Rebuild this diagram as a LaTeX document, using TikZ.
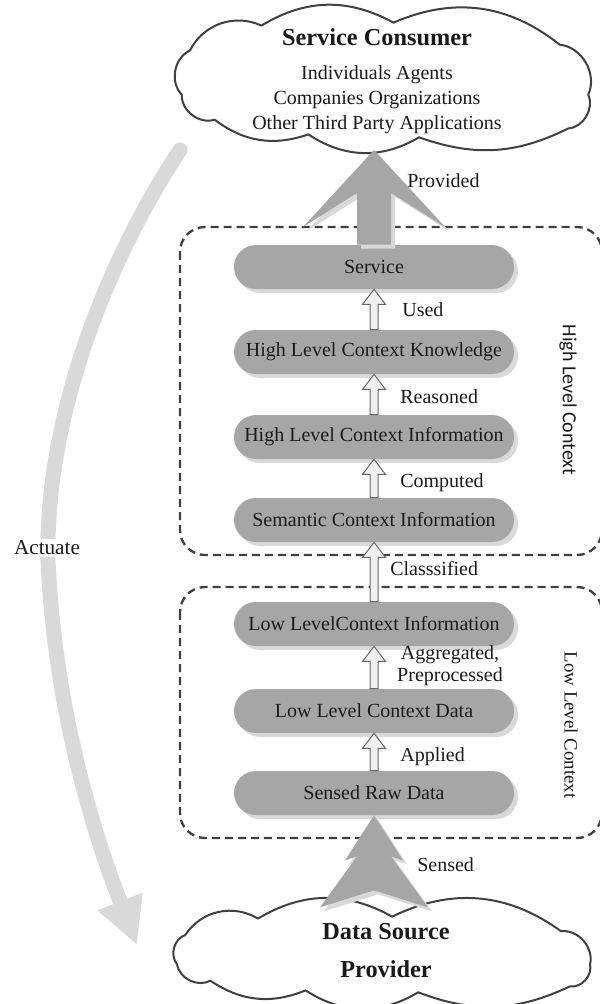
\documentclass[tikz,border=0pt]{standalone}
\usepackage{fontspec}
\setmainfont{Liberation Serif}
\newfontfamily\calibfont{Carlito}
\usetikzlibrary{shapes.misc,arrows.meta,calc,shadows}

\definecolor{boxgray}{HTML}{A6A6A6}
\definecolor{shadegray}{HTML}{D9D9D9}
\definecolor{linegray}{HTML}{404040}
\definecolor{inkgray}{HTML}{1A1A1A}

% cloud outline in unit coordinates (left, top = 0; right, bottom = 1)
\newcommand\cloudoutline{(0.023,0.61) to[bend left=55] (0.042,0.31) to[bend left=44] (0.21,0.14)
  to[bend left=30] (0.52,0.12) to[bend left=31] (0.91,0.27) to[bend left=55] (0.977,0.61)
  to[bend left=55] (0.93,0.84) to[bend left=23] (0.58,0.90) to[bend left=32] (0.32,0.88)
  to[bend left=28] (0.10,0.78) to[bend left=55] (0.023,0.61) -- cycle}

\tikzset{
  pill/.style={rounded rectangle, fill=boxgray, text=inkgray,
    minimum width=168pt, minimum height=26.4pt, inner sep=0pt,
    font=\fontsize{12}{14}\selectfont,
    drop shadow={shadow xshift=2.4pt, shadow yshift=-2.4pt, fill=shadegray, opacity=1}},
  lbl/.style={anchor=west, inner sep=0pt, text=inkgray, font=\fontsize{12}{14}\selectfont},
  grp/.style={draw=linegray, line width=1.4pt, dash pattern=on 4.8pt off 3pt, rounded corners=15pt},
  cloudline/.style={draw=linegray, line width=1.2pt, fill=white, line join=round},
  % small hollow block arrow between two stacked boxes
  smallarrow/.style={draw=black!60, fill=black!6, line width=0.6pt,
    to path={let \p1=(\tikztostart), \p2=(\tikztotarget) in
      (\x1-2.4pt,\y1) -- (\x1-2.4pt,\y2-9pt) -- (\x1-6.9pt,\y2-9pt) -- (\x1,\y2)
      -- (\x1+6.9pt,\y2-9pt) -- (\x1+2.4pt,\y2-9pt) -- (\x1+2.4pt,\y1) -- cycle}},
  % wide arrow with swept-back barbs
  widearrow/.style={fill=boxgray,
    drop shadow={shadow xshift=2.4pt, shadow yshift=-2.4pt, fill=shadegray, opacity=1},
    to path={let \p1=(\tikztostart), \p2=(\tikztotarget) in
      (\x1-10.2pt,\y1) -- (\x1-10.2pt,\y2-25.8pt) -- (\x1-42.6pt,\y2-46.2pt) -- (\x1,\y2)
      -- (\x1+42.6pt,\y2-46.2pt) -- (\x1+10.2pt,\y2-25.8pt) -- (\x1+10.2pt,\y1) -- cycle}},
  % double-headed (tree like) arrow
  treearrow/.style={fill=boxgray,
    drop shadow={shadow xshift=2.4pt, shadow yshift=-2.4pt, fill=shadegray, opacity=1},
    to path={let \p2=(\tikztotarget) in
      (\x2,\y2) -- (\x2+17.4pt,\y2-27pt) -- (\x2+10.2pt,\y2-24.6pt) -- (\x2+32.4pt,\y2-55.2pt)
      -- (\x2,\y2-45pt) -- (\x2-32.4pt,\y2-55.2pt) -- (\x2-10.2pt,\y2-24.6pt)
      -- (\x2-17.4pt,\y2-27pt) -- cycle}},
  bend arrow/.style={draw=shadegray, line width=9pt, line cap=round,
    -{Triangle[width=27pt,length=28pt]}}
}

\begin{document}
\begin{tikzpicture}[x=0.6pt,y=-0.6pt]
  \useasboundingbox (0,0) rectangle (600,1004);
  \clip (0,0) rectangle (600,1004);

  % grouping frames
  \draw[grp] (180,227) rectangle (602,555);
  \draw[grp] (180,587) rectangle (602,838);
  \node[rotate=-90, inner sep=0pt, text=inkgray, font=\calibfont\fontsize{12}{14}\selectfont] (hlc) at (568,400) {High Level Context};
  \node[rotate=-90, inner sep=0pt, text=inkgray, font=\fontsize{11.3}{14}\selectfont] (llc) at (571,725) {Low Level Context};

  % actuation loop on the left
  \coordinate (actstart) at (180,150);
  \coordinate (actend) at (137,945);
  \draw[bend arrow] (actstart) .. controls (120,240) and (45,400) .. (48,560)
    .. controls (55,720) and (100,850) .. (actend);
  \node[fill=white, inner sep=1pt, text=inkgray, font=\fontsize{12.7}{15}\selectfont] (act) at (47,548) {Actuate};

  % the two end points
  \begin{scope}[shift={(172,5)}, x=255.6pt, y=-88.2pt]
    \draw[cloudline] \cloudoutline;
  \end{scope}
  \coordinate (consbase) at (374,150);
  \node[align=center, text=inkgray, inner sep=0pt, font=\fontsize{12}{15.2}\selectfont] (cons) at (377,81.5)
    {{\fontsize{14.6}{16}\selectfont\bfseries Service Consumer}\\[5pt]
     Individuals Agents\\ Companies Organizations\\ Other Third Party Applications};
  \begin{scope}[shift={(167,905)}, x=259.8pt, y=-58.2pt]
    \draw[cloudline] \cloudoutline;
  \end{scope}
  \coordinate (dsptop) at (374,905);
  \node[align=center, text=inkgray, inner sep=0pt, font=\fontsize{14.6}{22.8}\selectfont\bfseries] (dsp) at (386,951)
    {Data Source\\ Provider};

  % processing stages
  \node[pill] (svc)  at (374,267) {Service};
  \node[pill] (hlck) at (374,352) {High Level Context Knowledge};
  \node[pill] (hlci) at (374,437) {High Level Context Information};
  \node[pill] (sci)  at (374,520) {Semantic Context Information};
  \node[pill] (llci) at (374,624) {Low LevelContext Information};
  \node[pill] (llcd) at (374,711) {Low Level Context Data};
  \node[pill] (srd)  at (374,793) {Sensed Raw Data};

  % transitions
  \draw[smallarrow] (hlck.north) to (svc.south);
  \draw[smallarrow] (hlci.north) to (hlck.south);
  \draw[smallarrow] (sci.north)  to (hlci.south);
  \draw[smallarrow] (llci.north) to (sci.south);
  \draw[smallarrow] (llcd.north) to (llci.south);
  \draw[smallarrow] (srd.north)  to (llcd.south);
  \path[widearrow] (svc.north) to (consbase);
  \path[treearrow] (dsptop) to (srd.south);

  % transition labels
  \node[lbl] (lprov) at (407,181) {Provided};
  \node[lbl] (lused) at (402,310) {Used};
  \node[lbl] (lreas) at (400,397) {Reasoned};
  \node[lbl] (lcomp) at (400,483) {Computed};
  \node[lbl] (lclas) at (390,569) {Classsified};
  \node[align=center, inner sep=0pt, text=inkgray, font=\fontsize{12}{13.2}\selectfont] (laggr) at (450,666) {Aggregated,\\ Preprocessed};
  \node[lbl] (lappl) at (400,757) {Applied};
  \node[lbl] (lsens) at (417,865) {Sensed};
\end{tikzpicture}
\end{document}
